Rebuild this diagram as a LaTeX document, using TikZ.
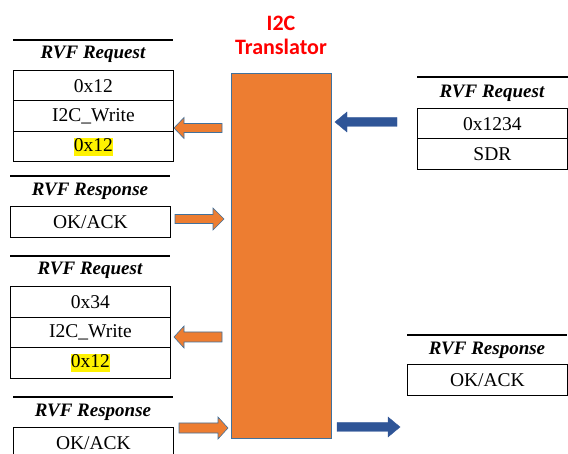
\documentclass[tikz,border=0pt]{standalone}
\usepackage{fontspec}
\setmainfont{Liberation Serif}
\newfontfamily\carlito{Carlito}
\definecolor{boxorange}{HTML}{ED7D31}
\definecolor{edgeblue}{HTML}{41719C}
\definecolor{arrowblue}{HTML}{2F5597}
\newcommand{\hlt}[1]{{\setlength{\fboxsep}{0pt}\colorbox{yellow}{\vphantom{(}#1}}}
\begin{document}
\begin{tikzpicture}[x=1pt,y=-1pt,
  cell/.style={draw=black, line width=0.9pt, minimum width=160pt, minimum height=30.5pt, inner sep=0pt, anchor=north west, font=\fontsize{19.5}{22}\selectfont},
  ttl/.style={font=\fontsize{19}{22}\selectfont\bfseries\itshape, inner sep=0pt, anchor=base},
  toprule/.style={line width=1.6pt},
  orangearrow/.style={fill=boxorange, draw=edgeblue, line width=0.6pt},
  bluearrow/.style={fill=arrowblue, draw=arrowblue, line width=0.4pt}
]
\useasboundingbox (0,0) rectangle (568,454);

% I2C translator
\node[draw=edgeblue, fill=boxorange, line width=0.6pt, minimum width=100pt, minimum height=365pt, inner sep=0pt, anchor=north west] (tr) at (231,73) {};
\node[text=red, font=\carlito\bfseries\fontsize{22}{24}\selectfont, align=center, inner sep=0pt] (trt) at (281,35) {I2C\\Translator};

% Left table 1
\coordinate (l1a) at (13,40); \coordinate (l1b) at (173,40);
\draw[toprule] (l1a) -- (l1b);
\node[ttl] (l1t) at (93,59) {RVF Request};
\node[cell] (l1r1) at (13,70) {0x12};
\node[cell] (l1r2) at (13,100.5) {I2C\_Write};
\node[cell] (l1r3) at (13,131) {\hlt{0x12}};

% Left table 2
\coordinate (l2a) at (10,176); \coordinate (l2b) at (170,176);
\draw[toprule] (l2a) -- (l2b);
\node[ttl] (l2t) at (90,196) {RVF Response};
\node[cell, minimum height=31pt] (l2r1) at (10,206) {OK/ACK};

% Left table 3
\coordinate (l3a) at (10,256); \coordinate (l3b) at (170,256);
\draw[toprule] (l3a) -- (l3b);
\node[ttl] (l3t) at (90,275) {RVF Request};
\node[cell, minimum height=31pt] (l3r1) at (10,286) {0x34};
\node[cell] (l3r2) at (10,317) {I2C\_Write};
\node[cell] (l3r3) at (10,347.5) {\hlt{0x12}};

% Left table 4
\coordinate (l4a) at (13,397); \coordinate (l4b) at (173,397);
\draw[toprule] (l4a) -- (l4b);
\node[ttl] (l4t) at (93,417) {RVF Response};
\node[cell, minimum height=31pt] (l4r1) at (13,427) {OK/ACK};

% Right table 1
\coordinate (r1a) at (417,77); \coordinate (r1b) at (568,77);
\draw[toprule] (r1a) -- (r1b);
\node[ttl] (r1t) at (492,98) {RVF Request};
\node[cell, minimum width=150pt] (r1r1) at (417,108) {0x1234};
\node[cell, minimum width=150pt] (r1r2) at (417,138.5) {SDR};

% Right table 2
\coordinate (r2a) at (407,335); \coordinate (r2b) at (567,335);
\draw[toprule] (r2a) -- (r2b);
\node[ttl] (r2t) at (487,355) {RVF Response};
\node[cell, minimum height=31pt] (r2r1) at (407,364) {OK/ACK};

% Orange block arrows
\draw[orangearrow] (174,128) -- (184,117.5) -- (184,123.5) -- (222,123.5) -- (222,132.5) -- (184,132.5) -- (184,138.5) -- cycle;
\draw[orangearrow] (175,214.5) -- (213,214.5) -- (213,208) -- (224,219) -- (213,230) -- (213,223.5) -- (175,223.5) -- cycle;
\draw[orangearrow] (174,337) -- (184,326) -- (184,332) -- (222,332) -- (222,342) -- (184,342) -- (184,348) -- cycle;
\draw[orangearrow] (179,423) -- (218,423) -- (218,417) -- (228,428) -- (218,439) -- (218,433) -- (179,433) -- cycle;

% Blue block arrows
\draw[bluearrow] (335,122) -- (347,112) -- (347,117.5) -- (397,117.5) -- (397,126.5) -- (347,126.5) -- (347,132) -- cycle;
\draw[bluearrow] (337,422.5) -- (388,422.5) -- (388,417) -- (400,427) -- (388,437) -- (388,431.5) -- (337,431.5) -- cycle;
\end{tikzpicture}
\end{document}
